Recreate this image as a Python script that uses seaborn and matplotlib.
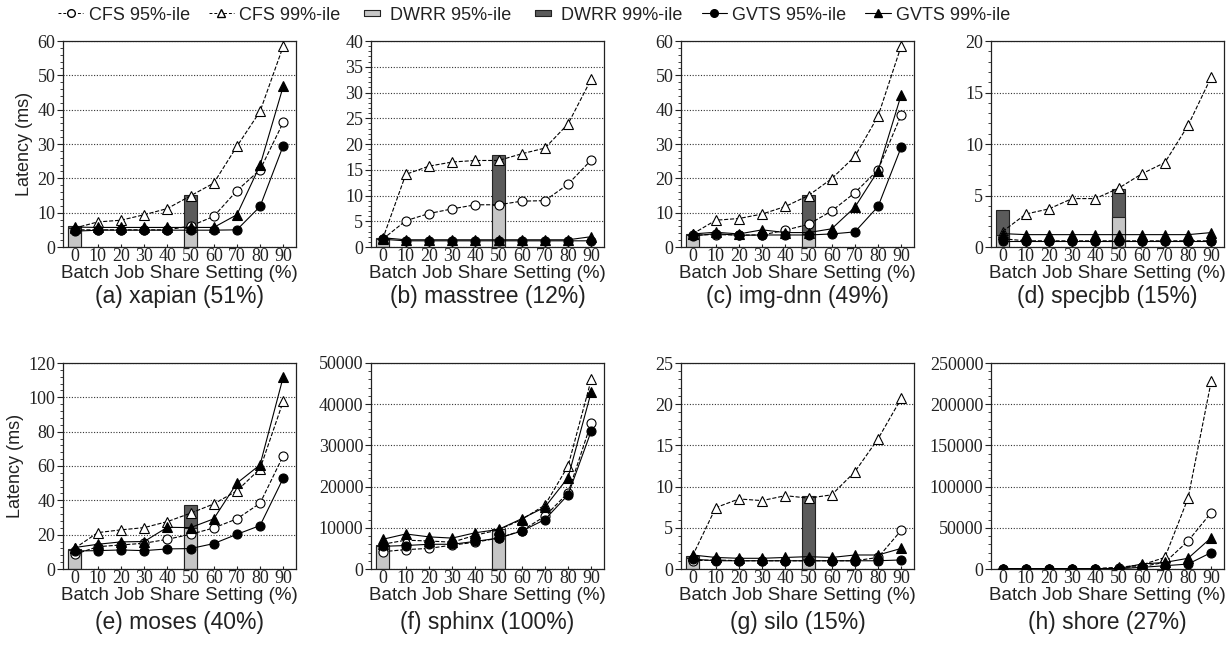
import matplotlib
matplotlib.use('Agg')
import matplotlib.pyplot as plt
import seaborn as sns
from matplotlib.ticker import MultipleLocator, AutoMinorLocator
from matplotlib.lines import Line2D
from matplotlib.path import Path

# batch job share setting (%) on the x axis
shares = [0, 10, 20, 30, 40, 50, 60, 70, 80, 90]
dwrr_shares = [0, 50]

benchmarks = ['xapian', 'masstree', 'img-dnn', 'specjbb', 'moses', 'sphinx', 'silo', 'shore']
captions = ['(a) xapian (51%)', '(b) masstree (12%)', '(c) img-dnn (49%)', '(d) specjbb (15%)',
            '(e) moses (40%)', '(f) sphinx (100%)', '(g) silo (15%)', '(h) shore (27%)']
y_max = [60, 40, 60, 20, 120, 50000, 25, 250000]
y_step = [10, 5, 10, 5, 20, 10000, 5, 50000]

# latency values, one dict per benchmark
xapian = dict(
    cfs95=[5.0, 5.0, 5.0, 5.0, 5.0, 6.1, 8.9, 16.4, 22.5, 36.3],
    cfs99=[5.5, 7.3, 7.8, 9.4, 11.2, 14.9, 18.6, 29.3, 39.5, 58.5],
    gvts95=[4.6, 4.9, 4.9, 4.9, 4.9, 4.9, 4.9, 5.0, 11.8, 29.5],
    gvts99=[5.8, 5.7, 5.7, 5.7, 5.7, 5.7, 5.7, 9.4, 23.8, 46.8],
    dwrr95=[5.5, 5.5], dwrr99=[6.0, 15.2])
masstree = dict(
    cfs95=[1.5, 5.1, 6.5, 7.4, 8.2, 8.2, 8.9, 9.0, 12.2, 16.9],
    cfs99=[1.5, 14.1, 15.7, 16.5, 16.8, 16.8, 18.1, 19.2, 23.9, 32.6],
    gvts95=[1.5, 1.2, 1.2, 1.2, 1.2, 1.2, 1.2, 1.2, 1.2, 1.2],
    gvts99=[1.8, 1.4, 1.4, 1.4, 1.4, 1.4, 1.4, 1.4, 1.4, 2.0],
    dwrr95=[1.5, 8.1], dwrr99=[1.8, 17.9])
img_dnn = dict(
    cfs95=[3.5, 3.6, 3.5, 3.5, 4.9, 6.6, 10.5, 15.8, 22.5, 38.5],
    cfs99=[3.8, 7.8, 8.3, 9.6, 11.8, 15.0, 19.9, 26.4, 38.1, 58.6],
    gvts95=[3.2, 3.9, 3.4, 3.5, 3.5, 3.5, 3.8, 4.4, 11.8, 29.1],
    gvts99=[3.8, 4.3, 3.8, 5.0, 4.2, 4.2, 5.3, 11.6, 22.2, 44.4],
    dwrr95=[3.5, 3.8], dwrr99=[3.9, 15.2])
specjbb = dict(
    cfs95=[0.8, 0.6, 0.6, 0.6, 0.6, 0.6, 0.6, 0.6, 0.6, 0.6],
    cfs99=[1.5, 3.2, 3.7, 4.7, 4.7, 5.7, 7.1, 8.2, 11.8, 16.5],
    gvts95=[0.6, 0.6, 0.6, 0.6, 0.6, 0.6, 0.6, 0.6, 0.6, 0.6],
    gvts99=[1.3, 1.2, 1.2, 1.2, 1.2, 1.2, 1.2, 1.2, 1.2, 1.4],
    dwrr95=[1.2, 2.9], dwrr99=[3.6, 5.6])
moses = dict(
    cfs95=[8.5, 13.0, 14.0, 15.0, 17.3, 20.2, 23.9, 29.2, 38.3, 66.0],
    cfs99=[12.0, 21.2, 22.8, 24.1, 27.6, 32.5, 37.9, 45.5, 58.4, 97.7],
    gvts95=[10.5, 10.7, 11.1, 10.7, 11.7, 11.9, 14.8, 20.2, 25.3, 52.9],
    gvts99=[12.5, 14.4, 15.8, 16.0, 24.3, 24.1, 29.2, 50.0, 60.7, 111.9],
    dwrr95=[11.0, 24.0], dwrr99=[11.7, 37.4])
sphinx = dict(
    cfs95=[4200, 4700, 5000, 5800, 6500, 7500, 9300, 12800, 18500, 35500],
    cfs99=[6000, 7000, 6800, 6500, 8200, 9500, 12000, 15500, 25000, 46000],
    gvts95=[5500, 5700, 6000, 6000, 6700, 7500, 9200, 12000, 18000, 33500],
    gvts99=[7200, 8500, 7800, 7500, 8800, 9600, 12200, 15000, 22200, 43000],
    dwrr95=[5700, 9700], dwrr99=[5800, 9800])
silo = dict(
    cfs95=[1.0, 1.1, 1.0, 1.0, 1.0, 1.0, 1.0, 1.0, 1.4, 4.7],
    cfs99=[1.6, 7.45, 8.5, 8.3, 8.9, 8.6, 9.0, 11.8, 15.8, 20.7],
    gvts95=[1.2, 1.0, 1.0, 1.0, 1.0, 1.0, 1.0, 1.0, 1.0, 1.1],
    gvts99=[1.7, 1.4, 1.3, 1.3, 1.4, 1.5, 1.4, 1.7, 1.7, 2.5],
    dwrr95=[1.3, 1.2], dwrr99=[1.6, 8.9])
shore = dict(
    cfs95=[300, 300, 300, 300, 300, 1500, 3000, 8000, 34000, 68500],
    cfs99=[500, 500, 500, 500, 500, 2000, 5000, 14000, 86000, 228000],
    gvts95=[300, 300, 300, 300, 300, 300, 2000, 4000, 6000, 20000],
    gvts99=[500, 500, 500, 500, 500, 500, 6000, 8000, 13000, 38000],
    dwrr95=[200, 300], dwrr99=[300, 500])
panels = [xapian, masstree, img_dnn, specjbb, moses, sphinx, silo, shore]

light_gray = '#c6c6c6'
dark_gray = '#5b5b5b'
ink = '#222222'

sns.set_style('white')
plt.rcParams['font.family'] = ['Liberation Sans', 'DejaVu Sans']

fig = plt.figure(figsize=(12.29, 6.49), dpi=100)
W, H = 1229, 649
lefts = [63, 371, 681, 991]
tops = [41, 363]
caption_y = [296, 622]
aw, ah = 233, 206

line_styles = {
    'cfs95': dict(marker='o', linestyle='--', markerfacecolor='white', dashes=(5, 3)),
    'cfs99': dict(marker='^', linestyle='--', markerfacecolor='white', dashes=(5, 3)),
    'gvts95': dict(marker='o', linestyle='-', markerfacecolor='black'),
    'gvts99': dict(marker='^', linestyle='-', markerfacecolor='black'),
}

for i, data in enumerate(panels):
    row, col = divmod(i, 4)
    ax = fig.add_axes([lefts[col] / W, 1 - (tops[row] + ah) / H, aw / W, ah / H])
    ax.set_axisbelow(True)
    ax.yaxis.grid(True, linestyle=(0, (1, 1.5)), color='#333333', linewidth=0.8)

    # DWRR bars: 99%-ile behind, 95%-ile in front
    ax.bar(dwrr_shares, data['dwrr99'], width=5.5, color=dark_gray, edgecolor=ink,
           linewidth=0.8, zorder=2)
    ax.bar(dwrr_shares, data['dwrr95'], width=5.5, color=light_gray, edgecolor=ink,
           linewidth=0.8, zorder=2)

    for key in ['cfs95', 'cfs99', 'gvts95', 'gvts99']:
        sns.lineplot(x=shares, y=data[key], ax=ax, color='black', markeredgecolor='black',
                     markersize=6.5, linewidth=0.8, markeredgewidth=0.8, zorder=3,
                     **line_styles[key])

    ax.set_xlim(-5, 95.5)
    ax.set_ylim(0, y_max[i])
    ax.set_xticks(shares)
    ax.yaxis.set_major_locator(MultipleLocator(y_step[i]))
    ax.yaxis.set_minor_locator(AutoMinorLocator(5))
    ax.tick_params(axis='x', direction='in', length=2.5, width=0.8, pad=1, labelsize=13,
                   colors=ink, bottom=True)
    ax.tick_params(axis='y', which='major', length=4, width=0.8, pad=1.5, labelsize=13,
                   colors=ink, left=True)
    ax.tick_params(axis='y', which='minor', length=2, width=0.6, left=True, color=ink)
    for lab in ax.get_xticklabels() + ax.get_yticklabels():
        lab.set_fontfamily('Liberation Serif')
    for sp in ax.spines.values():
        sp.set_color(ink)
        sp.set_linewidth(0.9)

    ax.set_xlabel('Batch Job Share Setting (%)', fontsize=13.5, labelpad=0, color=ink)
    if col == 0:
        ax.set_ylabel('Latency (ms)', fontsize=13, labelpad=3, color=ink)
    else:
        ax.set_ylabel('')

    fig.text((lefts[col] + aw / 2) / W, 1 - caption_y[row] / H, captions[i], fontsize=16.5,
             ha='center', va='center', color=ink)

# legend across the top
bar_marker = Path([(-1, -0.38), (1, -0.38), (1, 0.38), (-1, 0.38), (-1, -0.38)],
                  [Path.MOVETO, Path.LINETO, Path.LINETO, Path.LINETO, Path.CLOSEPOLY])
handles = [
    Line2D([], [], color='black', linestyle='--', dashes=(3, 2), marker='o',
           markerfacecolor='white', markersize=5.5, linewidth=0.7),
    Line2D([], [], color='black', linestyle='--', dashes=(3, 2), marker='^',
           markerfacecolor='white', markersize=5.5, linewidth=0.7),
    Line2D([], [], linestyle='none', marker=bar_marker, markersize=11,
           markerfacecolor=light_gray, markeredgecolor=ink, markeredgewidth=0.8),
    Line2D([], [], linestyle='none', marker=bar_marker, markersize=11,
           markerfacecolor=dark_gray, markeredgecolor=ink, markeredgewidth=0.8),
    Line2D([], [], color='black', linestyle='-', marker='o', markersize=5.5, linewidth=0.8),
    Line2D([], [], color='black', linestyle='-', marker='^', markersize=5.5, linewidth=0.8),
]
labels = ['CFS 95%-ile', 'CFS 99%-ile', 'DWRR 95%-ile', 'DWRR 99%-ile',
          'GVTS 95%-ile', 'GVTS 99%-ile']
fig.legend(handles, labels, loc='center left', bbox_to_anchor=(58 / W, 1 - 15 / H),
           ncol=6, frameon=False, fontsize=13, handlelength=1.4, handletextpad=0.3,
           columnspacing=1.05, borderpad=0, borderaxespad=0, labelcolor=ink)

fig.savefig('out.png', dpi=100)
